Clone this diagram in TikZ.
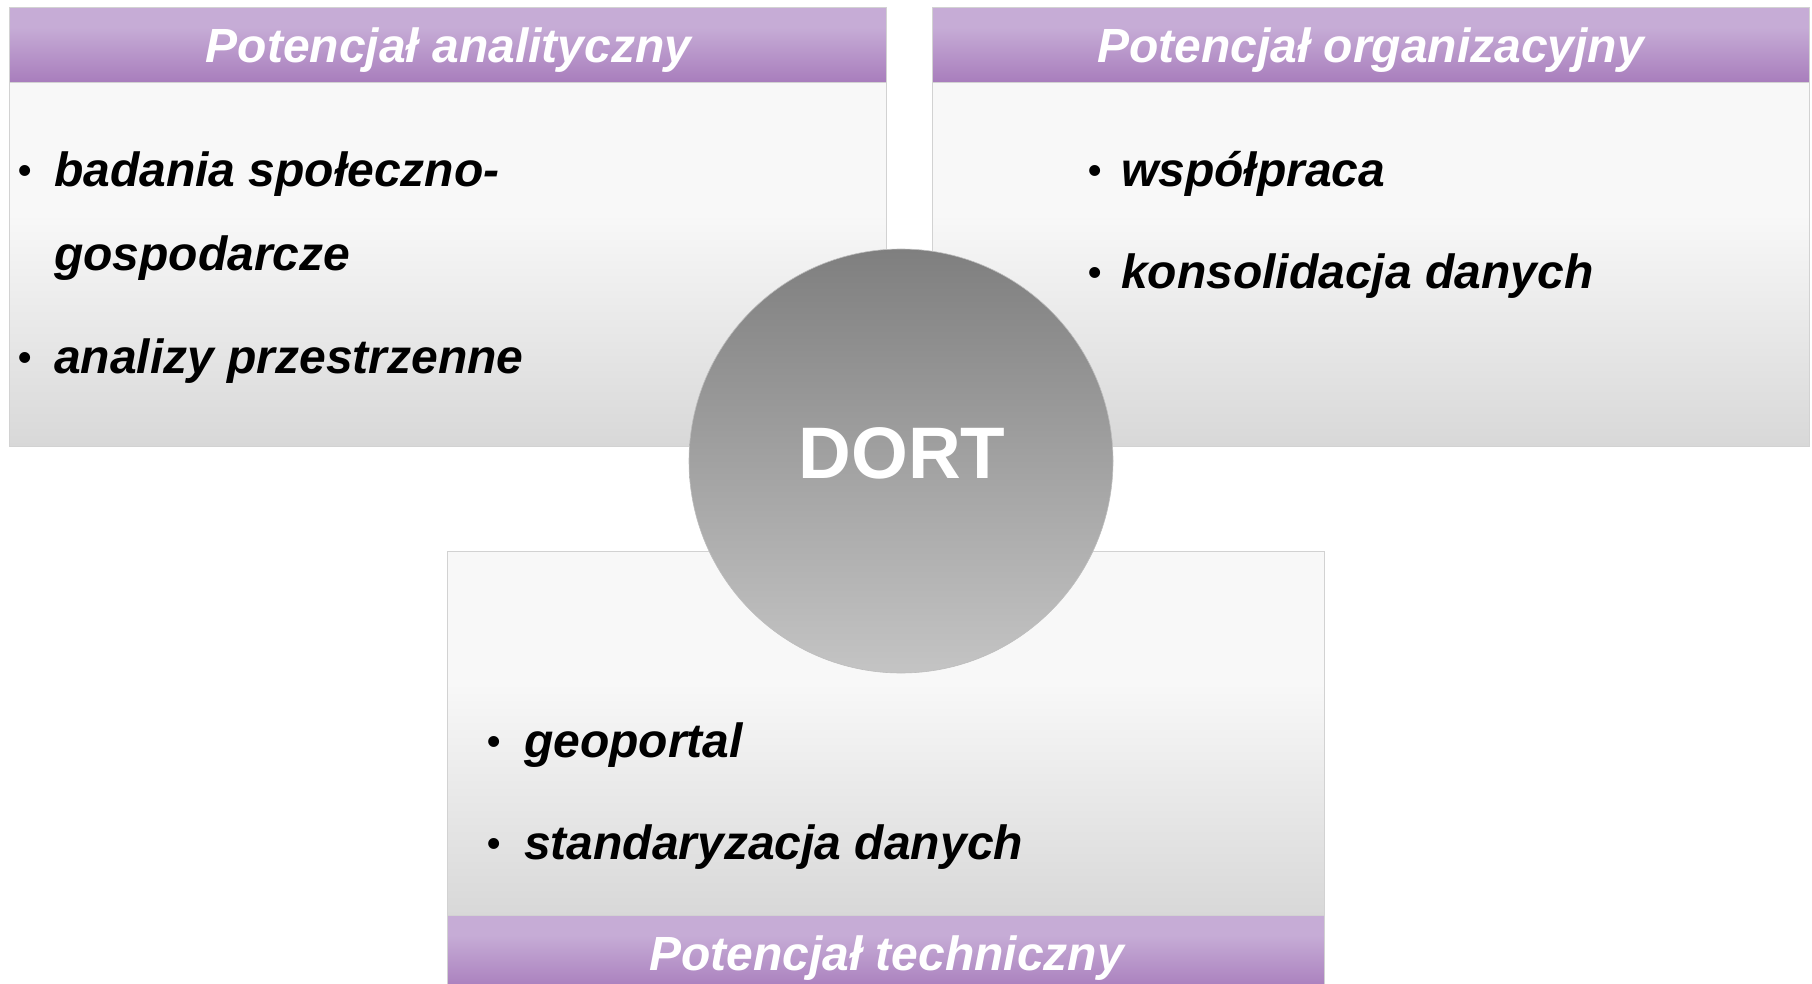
\documentclass[tikz,border=0pt]{standalone}
\usepackage{fontspec}
\setmainfont{Liberation Sans}
\definecolor{bodytop}{HTML}{F8F8F8}
\definecolor{bodybot}{HTML}{D8D8D8}
\definecolor{headtop}{HTML}{C6ACD6}
\definecolor{headbot}{HTML}{A87DBC}
\definecolor{circtop}{HTML}{7F7F7F}
\definecolor{circbot}{HTML}{C4C4C4}
\definecolor{boxline}{HTML}{D2D2D2}
\definecolor{circline}{HTML}{BDBDBD}
\pgfdeclareverticalshading{bodyshade}{100bp}{color(0bp)=(bodybot); color(25bp)=(bodybot); color(57bp)=(bodytop); color(75bp)=(bodytop); color(100bp)=(bodytop)}
\pgfdeclareverticalshading{headshade}{100bp}{color(0bp)=(headbot); color(25bp)=(headbot); color(62bp)=(headtop); color(75bp)=(headtop); color(100bp)=(headtop)}
\pgfdeclareverticalshading{circshade}{100bp}{color(0bp)=(circbot); color(25bp)=(circbot); color(75bp)=(circtop); color(100bp)=(circtop)}
\tikzset{
  bodybox/.style={draw=boxline, line width=1.2pt, shading=bodyshade, inner sep=0pt, anchor=north west},
  headbox/.style={draw=boxline, line width=1.2pt, shading=headshade, inner sep=0pt, anchor=north west},
  headtext/.style={text=white, font=\fontsize{48}{48}\selectfont\bfseries\itshape, inner sep=0pt, anchor=base},
  itemtext/.style={text=black, font=\fontsize{48}{48}\selectfont\bfseries\itshape, inner sep=0pt, anchor=base west},
  bul/.style={text=black, font=\fontsize{38}{38}\selectfont\bfseries, inner sep=0pt, anchor=base},
  hub/.style={circle, draw=circline, line width=0.6pt, shading=circshade, minimum size=424pt, inner sep=0pt},
  hubtext/.style={text=white, font=\fontsize{73}{73}\selectfont\bfseries, inner sep=0pt, anchor=base}
}
\begin{document}
\begin{tikzpicture}[x=1pt,y=-1pt]
\useasboundingbox (0,0) rectangle (1812,984);
\begin{scope}
\clip (0,0) rectangle (1812,984);
% left box
\node[bodybox, minimum width=877pt, minimum height=364pt] (lbody) at (9,82) {};
\node[headbox, minimum width=877pt, minimum height=75pt] (lhead) at (9,7) {};
% right box
\node[bodybox, minimum width=877pt, minimum height=364pt] (rbody) at (932,82) {};
\node[headbox, minimum width=877pt, minimum height=75pt] (rhead) at (932,7) {};
% bottom box
\node[bodybox, minimum width=877pt, minimum height=364pt] (bbody) at (447,551) {};
\node[headbox, minimum width=877pt, minimum height=75pt] (bhead) at (447,915) {};
\end{scope}
% header texts
\node[headtext] (lht) at (448.5,63) {Potencjał analityczny};
\node[headtext] (rht) at (1370.5,63) {Potencjał organizacyjny};
\node[headtext] (bht) at (886.5,970) {Potencjał techniczny};
% left items
\node[bul] (lb1) at (25,184) {•};
\node[itemtext] (l1) at (54,187) {badania społeczno-};
\node[itemtext] (l2) at (54,271) {gospodarcze};
\node[bul] (lb2) at (25,370) {•};
\node[itemtext] (l3) at (54,373) {analizy przestrzenne};
% right items
\node[bul] (rb1) at (1095,184) {•};
\node[itemtext] (r1) at (1121,187) {współpraca};
\node[bul] (rb2) at (1095,286) {•};
\node[itemtext] (r2) at (1121,289) {konsolidacja danych};
% bottom items
\node[bul] (bb1) at (494,754) {•};
\node[itemtext] (b1) at (524,757) {geoportal};
\node[bul] (bb2) at (494,856) {•};
\node[itemtext] (b2) at (524,859) {standaryzacja danych};
% centre circle
\node[hub] (dort) at (901,461) {};
\node[hubtext] (dortlabel) at (902,478) {DORT};
\end{tikzpicture}
\end{document}
